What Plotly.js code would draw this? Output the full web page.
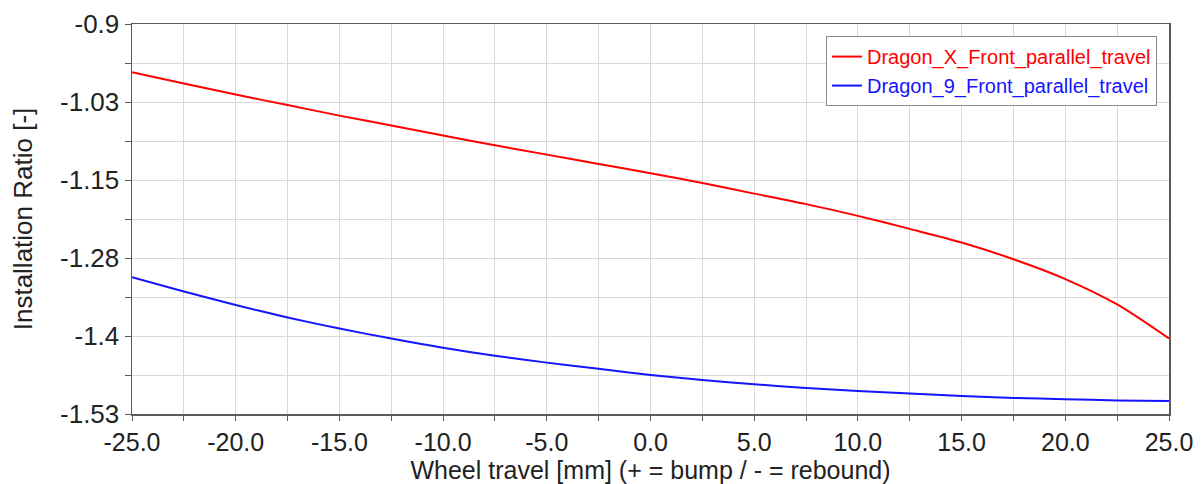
<!DOCTYPE html>
<html>
<head>
<meta charset="utf-8">
<script src="https://cdn.plot.ly/plotly-3.0.1.min.js"></script>
<style>
  html, body { margin: 0; padding: 0; background: #ffffff; }
  #chart { width: 1203px; height: 484px; }
</style>
</head>
<body>
<div id="chart"></div>
<script>
// ---- data ----
const wheelTravel = [-25, -22.5, -20, -17.5, -15, -12.5, -10, -7.5, -5, -2.5, 0,
                     2.5, 5, 7.5, 10, 12.5, 15, 17.5, 20, 22.5, 25];
const dragonXRatio = [-0.978, -0.996, -1.014, -1.031, -1.048, -1.064, -1.080, -1.096, -1.111, -1.126, -1.141,
                      -1.157, -1.174, -1.191, -1.210, -1.231, -1.253, -1.280, -1.312, -1.353, -1.408];
const dragon9Ratio = [-1.309, -1.332, -1.354, -1.374, -1.392, -1.408, -1.423, -1.436, -1.447, -1.457, -1.467,
                      -1.475, -1.482, -1.488, -1.493, -1.497, -1.501, -1.504, -1.506, -1.508, -1.509];
const seriesNames = ['Dragon_X_Front_parallel_travel', 'Dragon_9_Front_parallel_travel'];
const xTickVals = [-25, -20, -15, -10, -5, 0, 5, 10, 15, 20, 25];
const xTickText = ['-25.0', '-20.0', '-15.0', '-10.0', '-5.0', '0.0', '5.0', '10.0', '15.0', '20.0', '25.0'];
const yTickVals = [-1.53, -1.404, -1.278, -1.152, -1.026, -0.9];
const yTickText = ['-1.53', '-1.4', '-1.28', '-1.15', '-1.03', '-0.9'];
const xTitle = 'Wheel travel [mm] (+ = bump / - = rebound)';
const yTitle = 'Installation Ratio [-]';

const RED = 'rgb(255,0,0)';
const BLUE = 'rgb(20,20,255)';
const FONT = 'Liberation Sans, Arial, sans-serif';
const GRID = '#d9d9d9';
const AXIS = '#5a5a5a';
const TXT = '#222222';

const traces = [
  {
    x: wheelTravel, y: dragonXRatio, type: 'scatter', mode: 'lines',
    name: '<span style="color:' + RED + '">' + seriesNames[0] + '</span>',
    line: { color: RED, width: 2, shape: 'spline', smoothing: 0.8 }
  },
  {
    x: wheelTravel, y: dragon9Ratio, type: 'scatter', mode: 'lines',
    name: '<span style="color:' + BLUE + '">' + seriesNames[1] + '</span>',
    line: { color: BLUE, width: 2, shape: 'spline', smoothing: 0.8 }
  }
];

const layout = {
  width: 1203, height: 484,
  margin: { l: 132, r: 34, t: 24, b: 70 },
  paper_bgcolor: '#ffffff', plot_bgcolor: '#ffffff',
  font: { family: FONT, size: 25, color: TXT },
  showlegend: true,
  legend: {
    x: 0.9884, y: 0.969, xanchor: 'right', yanchor: 'top',
    bgcolor: '#ffffff', bordercolor: '#8a8a8a', borderwidth: 1,
    font: { family: FONT, size: 20, color: TXT },
    itemwidth: 30, tracegroupgap: 0
  },
  xaxis: {
    range: [-25, 25], tickmode: 'array', tickvals: xTickVals, ticktext: xTickText,
    showgrid: true, gridcolor: GRID, gridwidth: 1, zeroline: false,
    showline: true, linecolor: AXIS, linewidth: 1.5, mirror: true,
    ticks: 'outside', ticklen: 5, tickcolor: AXIS, tickwidth: 1,
    tickfont: { family: FONT, size: 25, color: TXT },
    minor: { tick0: -25, dtick: 2.5, showgrid: true, gridcolor: GRID, gridwidth: 1,
             ticks: 'outside', ticklen: 5, tickcolor: AXIS },
    title: { text: xTitle, font: { family: FONT, size: 25, color: TXT }, standoff: 8 }
  },
  yaxis: {
    range: [-1.53, -0.9], tickmode: 'array', tickvals: yTickVals, ticktext: yTickText,
    showgrid: true, gridcolor: GRID, gridwidth: 1, zeroline: false,
    showline: true, linecolor: AXIS, linewidth: 1.5, mirror: true,
    ticks: 'outside', ticklen: 6, tickcolor: AXIS, tickwidth: 1,
    ticklabelstandoff: 0,
    tickfont: { family: FONT, size: 26, color: TXT },
    minor: { tick0: -1.53, dtick: 0.063, showgrid: true, gridcolor: GRID, gridwidth: 1,
             ticks: 'outside', ticklen: 6, tickcolor: AXIS },
    title: { text: yTitle, font: { family: FONT, size: 26, color: TXT }, standoff: 20 }
  }
};

Plotly.newPlot('chart', traces, layout, { displayModeBar: false, staticPlot: true });
</script>
</body>
</html>
